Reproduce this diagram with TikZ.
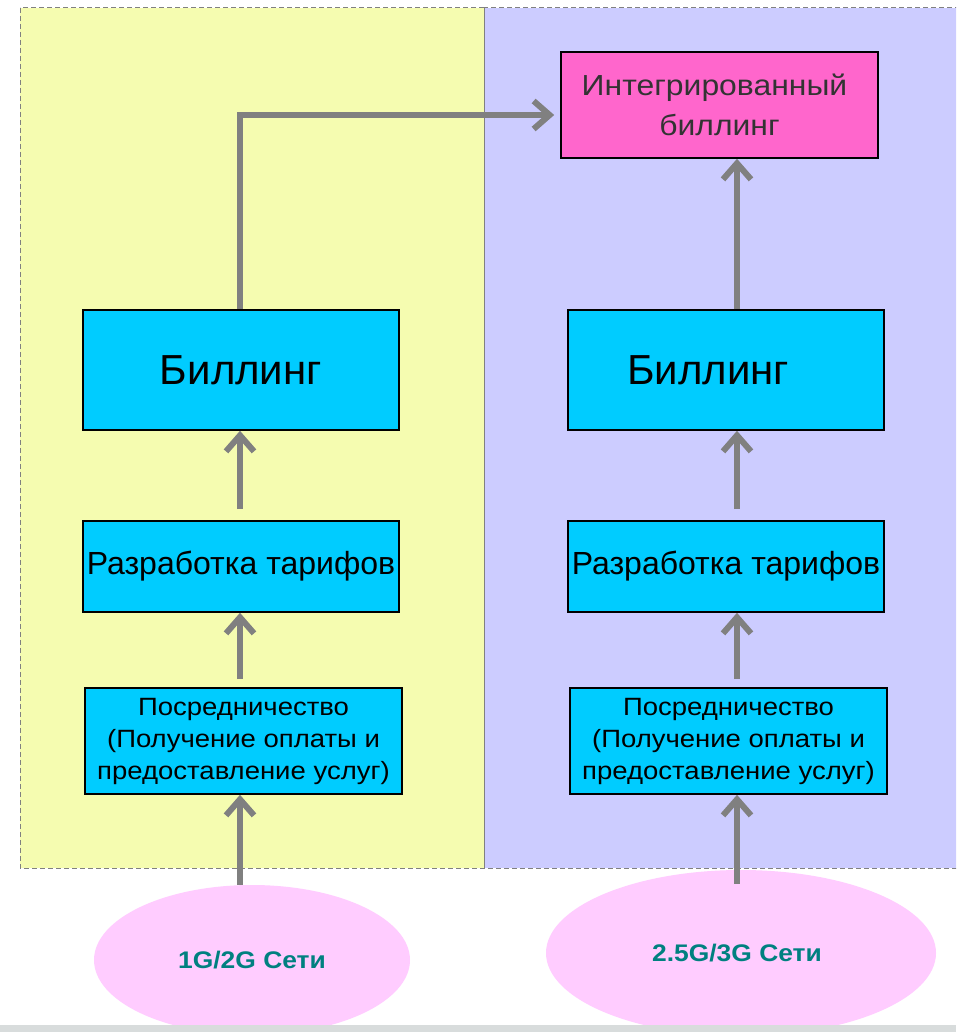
\documentclass[tikz,border=0pt]{standalone}
\usepackage{fontspec}
\setmainfont{Liberation Sans}
\usetikzlibrary{arrows.meta,shapes.geometric}
\definecolor{panelyel}{RGB}{245,252,176}
\definecolor{panellav}{RGB}{204,204,255}
\definecolor{boxcyan}{RGB}{0,204,255}
\definecolor{boxpink}{RGB}{255,102,204}
\definecolor{netpink}{RGB}{255,204,255}
\definecolor{netteal}{RGB}{0,128,128}
\definecolor{arrgray}{RGB}{128,128,128}
\definecolor{bandgray}{RGB}{216,220,220}
\begin{document}
\begin{tikzpicture}[x=1pt,y=-1pt,
  box/.style={draw=black,line width=1.6pt,fill=boxcyan,inner sep=0pt,align=center},
  net/.style={ellipse,fill=netpink,inner sep=0pt,text=netteal,
    font=\fontsize{24}{28}\selectfont\bfseries\addfontfeature{FakeStretch=1.1}},
  flow/.style={draw=arrgray,line width=6pt,-{Straight Barb[length=16pt,width=28pt]}}]
\pgfmathsetmacro{\colA}{240}
\pgfmathsetmacro{\colB}{737}
\clip (0,0) rectangle (956,1032);
\useasboundingbox (0,0) rectangle (956,1032);
\fill[white] (0,0) rectangle (956,1032);
%panels
\fill[panelyel] (20,8) rectangle (484,868);
\fill[panellav] (484,8) rectangle (970,868);
\draw[arrgray,line width=1pt,dash pattern=on 5pt off 3pt] (20,8) rectangle (484,868);
\draw[arrgray,line width=1pt,dash pattern=on 5pt off 3pt] (484,8) rectangle (970,868);
%
\coordinate (colA) at (\colA,0);
\coordinate (colB) at (\colB,0);
%boxes
\node[box,minimum width=317pt,minimum height=106pt,fill=boxpink,text=black!80,
  font=\fontsize{29}{40}\selectfont\addfontfeature{FakeStretch=1.1}] (integ) at (719.5,105) {Интегрированный\hspace*{10pt}\\биллинг};
\node[box,minimum width=316pt,minimum height=120pt,font=\fontsize{42}{48}\selectfont] (billA) at (241,370) {Биллинг};
\node[box,minimum width=316pt,minimum height=120pt,font=\fontsize{42}{48}\selectfont] (billB) at (726,370) {Биллинг\hspace*{36pt}};
\node[box,minimum width=316pt,minimum height=91pt,font=\fontsize{32}{38}\selectfont] (tarA) at (241,566.5) {Разработка тарифов};
\node[box,minimum width=316pt,minimum height=91pt,font=\fontsize{32}{38}\selectfont] (tarB) at (726,566.5) {Разработка тарифов};
\node[box,minimum width=317pt,minimum height=106pt,font=\fontsize{25}{32}\selectfont\addfontfeature{FakeStretch=1.1}] (medA) at (243.5,741)
  {Посредничество\\(Получение оплаты и\\предоставление услуг)};
\node[box,minimum width=317pt,minimum height=106pt,font=\fontsize{25}{32}\selectfont\addfontfeature{FakeStretch=1.1}] (medB) at (728.5,741)
  {Посредничество\\(Получение оплаты и\\предоставление услуг)};
%networks
\node[net,minimum width=316pt,minimum height=150pt] (netA) at (252,960) {1G/2G Сети};
\node[net,minimum width=390pt,minimum height=166pt] (netB) at (741,953) {2.5G/3G Сети\hspace*{8pt}};
%arrows left
\draw[flow] (netA.north -| colA) -- (medA.south -| colA);
\draw[flow,shorten <=8pt] (medA.north -| colA) -- (tarA.south -| colA);
\draw[flow,shorten <=11pt] (tarA.north -| colA) -- (billA.south -| colA);
\draw[flow,shorten >=6pt] (billA.north -| colA) |- ([yshift=-10pt]integ.west);
%arrows right
\draw[flow,shorten <=-14pt] (netB.north -| colB) -- (medB.south -| colB);
\draw[flow,shorten <=8pt] (medB.north -| colB) -- (tarB.south -| colB);
\draw[flow,shorten <=11pt] (tarB.north -| colB) -- (billB.south -| colB);
\draw[flow] (billB.north -| colB) -- (integ.south -| colB);
%band
\fill[bandgray] (0,1025) rectangle (956,1032);
\end{tikzpicture}
\end{document}
